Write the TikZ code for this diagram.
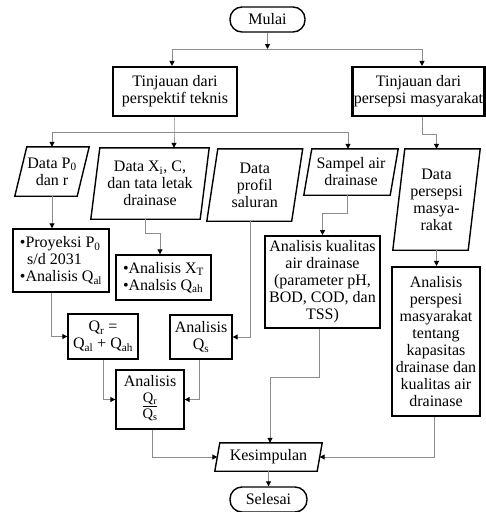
\documentclass[tikz,border=0pt]{standalone}
\usepackage{fontspec}
\setmainfont{Liberation Serif}
\usetikzlibrary{arrows.meta}
\definecolor{conncol}{HTML}{8C8C8C}
\tikzset{
 base/.style={inner sep=0pt, align=center, font=\fontsize{16}{17}\selectfont},
 box/.style={base, draw, line width=1.4pt},
 tbox/.style={base, draw, line width=2.1pt},
 term/.style={base, draw, line width=1.4pt, rounded corners=12pt},
 pnode/.style={base},
 plg/.style={draw, line width=1.4pt, line join=miter},
 arr/.style={draw=conncol, line width=1pt, -{Triangle[length=5pt,width=5pt,color=black]}},
 ln/.style={draw=conncol, line width=1pt},
}
\newcommand\plgram[2]{\draw[plg] ([xshift=#2pt]#1.north west) -- ([xshift=#2pt]#1.north east) -- ([xshift=-#2pt]#1.south east) -- ([xshift=-#2pt]#1.south west) -- cycle;}
\begin{document}
\begin{tikzpicture}[x=1pt,y=-1pt]
\useasboundingbox (0,0) rectangle (486,512);
% terminals
\node[term, minimum width=75pt, minimum height=25pt] (mulai) at (267.5,19.5) {Mulai};
\node[term, minimum width=77pt, minimum height=25pt] (sel) at (268.5,499.5) {Selesai};
% top boxes
\node[tbox, minimum width=124pt, minimum height=49pt] (tt) at (175,91.5) {Tinjauan dari\\perspektif teknis};
\node[tbox, minimum width=132pt, minimum height=49pt] (tm) at (418.5,91.5) {Tinjauan dari\\persepsi masyarakat};
% data parallelograms
\node[pnode, minimum width=62pt, minimum height=49pt] (dp0) at (52,171.5) {Data P\textsubscript{0}\\dan r};
\node[pnode, minimum width=109pt, minimum height=71pt] (dxi) at (150,183.5) {Data X\textsubscript{i}, C,\\dan tata letak\\drainase};
\node[pnode, minimum width=84.5pt, minimum height=72pt] (dpr) at (254.75,185) {Data\\profil\\saluran};
\node[pnode, minimum width=86pt, minimum height=46pt] (sam) at (351,172) {Sampel air\\drainase};
\node[pnode, minimum width=75pt, minimum height=101pt] (dper) at (436.5,199.5) {Data\\persepsi\\masya-\\rakat};
\plgram{dp0}{6}
\plgram{dxi}{4.5}
\plgram{dpr}{5.5}
\plgram{sam}{4}
\plgram{dper}{6}
% process boxes
\node[box, minimum width=96pt, minimum height=63pt, align=left] (proy) at (61,260.5) {\textbullet Proyeksi P\textsubscript{0}\\\hspace*{0.45em}s/d 2031\\\textbullet Analisis Q\textsubscript{al}};
\node[box, minimum width=95pt, minimum height=45pt, align=left] (axt) at (163.5,277.5) {\textbullet Analisis X\textsubscript{T}\\\textbullet Analsis Q\textsubscript{ah}};
\node[box, minimum width=70pt, minimum height=45pt] (qr) at (103,336.5) {Q\textsubscript{r} =\\Q\textsubscript{al} + Q\textsubscript{ah}};
\node[box, minimum width=62pt, minimum height=44pt] (qs) at (201,337) {Analisis\\Q\textsubscript{s}};
\node[box, minimum width=68pt, minimum height=59pt] (aqq) at (150,399.5) {Analisis\\[-1pt]{\fontsize{14.5}{16}\selectfont\begin{tabular}[t]{@{}c@{}}\underline{Q\textsubscript{r}}\\Q\textsubscript{s}\end{tabular}}};
\node[box, line width=1.7pt, minimum width=115pt, minimum height=92pt] (akual) at (322.5,282) {Analisis kualitas\\air drainase\\(parameter pH,\\BOD, COD, dan\\TSS)};
\node[tbox, minimum width=88pt, minimum height=149pt] (apers) at (436,341.5) {Analisis\\perspesi\\masyarakat\\tentang\\kapasitas\\drainase dan\\kualitas air\\drainase};
\node[pnode, minimum width=102pt, minimum height=28pt] (kes) at (268.5,457) {Kesimpulan};
\plgram{kes}{2.5}
% connectors
\coordinate (j1) at (267.5,49);
\draw[arr] (mulai.south) -- (j1);
\draw[arr] (j1) -| ([xshift=-3pt]tt.north);
\draw[arr] (j1) -| ([xshift=3.5pt]tm.north);
\coordinate (j2) at (174,132);
\draw[arr] ([xshift=-1pt]tt.south) -- (j2) -- (j2 |- dxi.north);
\draw[arr] (j2) -| (dp0.north);
\draw[arr] (j2) -| ([xshift=-3pt]sam.north);
\draw[arr] ([xshift=3.5pt]tm.south) -- ++(0,17) -| (dper.north);
\draw[arr] (dp0.south) -- (dp0.south |- proy.north);
\draw[arr] ([xshift=-5pt]dxi.south) -- ++(0,14) -| ([xshift=-3.5pt]axt.north);
\draw[arr] ([xshift=-10pt]proy.south) |- (qr.west);
\draw[arr] ([xshift=-4.75pt]dpr.south) |- (qs.east);
\draw[arr] (qr.south) |- (aqq.west);
\draw[arr] ([xshift=-2pt]qs.south) |- (aqq.east);
\draw[arr] ([xshift=-4pt]sam.south) -- ++(0,18) -| (akual.north);
\draw[arr] (dper.south) -- (dper.south |- apers.north);
\draw[arr] ([xshift=2pt]aqq.south) |- (kes.west);
\draw[arr] ([xshift=-3.5pt]akual.south) -- ++(0,49) -| ([xshift=1.5pt]kes.north);
\draw[arr] ([xshift=-2pt]apers.south) |- (kes.east);
\draw[arr] (kes.south) -- (sel.north);
\end{tikzpicture}
\end{document}
